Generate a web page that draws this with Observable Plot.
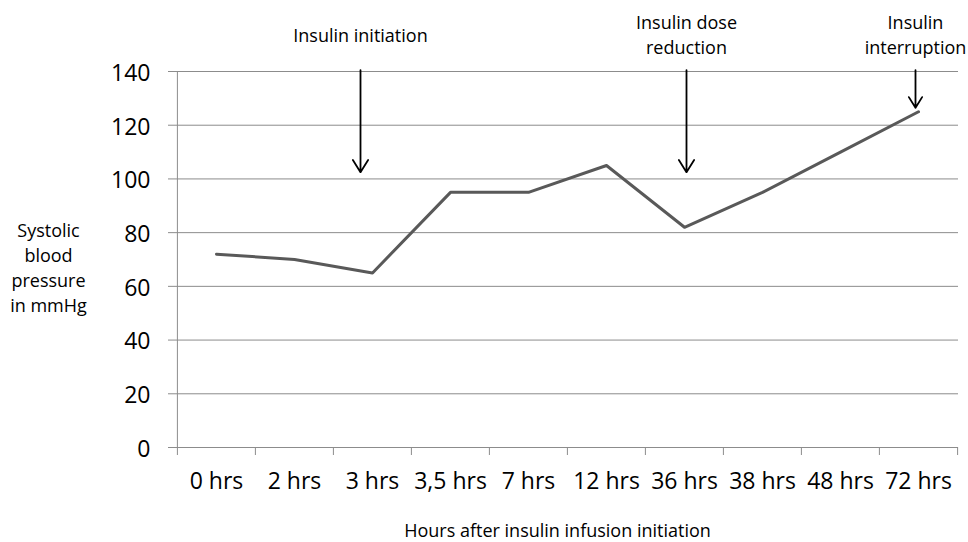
<!DOCTYPE html>
<html>
<head>
<meta charset="utf-8">
<script src="https://cdn.jsdelivr.net/npm/d3@7"></script>
<script src="https://cdn.jsdelivr.net/npm/@observablehq/plot@0.6"></script>
<style>
  html, body { margin: 0; padding: 0; background: #fff; }
  #chart svg { display: block; }
</style>
</head>
<body>
<div id="chart"></div>
<script>
const times = ["0 hrs", "2 hrs", "3 hrs", "3,5 hrs", "7 hrs", "12 hrs", "36 hrs", "38 hrs", "48 hrs", "72 hrs"];
const sbp = [72, 70, 65, 95, 95, 105, 82, 95, 110, 125];
const yTicks = [0, 20, 40, 60, 80, 100, 120, 140];
const eventLabels = ["Insulin initiation", "Insulin dose\nreduction", "Insulin\ninterruption"];
const eventAt = ["3 hrs", "36 hrs", "72 hrs"];
const eventTip = [102.5, 102.5, 126.5];
const yLabel = "Systolic\nblood\npressure\nin mmHg";
const xLabel = "Hours after insulin infusion initiation";

const W = 968, H = 542;
const mL = 176, mR = 10, mT = 71, mB = 95;
const step = (W - mL - mR) / times.length;
const pxPerUnit = (H - mT - mB) / 140;
const tickUnits = 8 / pxPerUnit;
const eventDx = [-12, 2, -3];

const data = times.map((t, i) => ({time: t, sbp: sbp[i]}));
const events = eventLabels.map((l, i) => ({label: l, at: eventAt[i], tip: eventTip[i]}));

const grid = "#8c8c8c";
const font = "Open Sans";

const marks = [
  Plot.ruleY(yTicks, {y: d => d, stroke: grid, strokeWidth: 1, insetLeft: -8}),
  Plot.ruleX([times[0]], {x: d => d, y1: 0, y2: 140, dx: -step / 2, stroke: grid}),
  Plot.ruleX(times, {x: d => d, y1: 0, y2: -tickUnits, dx: -step / 2, stroke: grid}),
  Plot.ruleX([times[times.length - 1]], {x: d => d, y1: 0, y2: -tickUnits, dx: step / 2, stroke: grid}),
  Plot.text(yTicks, {y: d => d, text: d => String(d), frameAnchor: "left", textAnchor: "end", dx: -26, dy: 2, fontSize: 23, fill: "#000"}),
  Plot.text(times, {x: d => d, text: d => d, frameAnchor: "bottom", dy: 41, fontSize: 23, fill: "#000"}),
  Plot.line(data, {x: "time", y: "sbp", stroke: "#595959", strokeWidth: 3}),
  ...events.map((e, i) => Plot.arrow([e], {x1: "at", x2: "at", y1: 140.5, y2: "tip", dx: eventDx[i], stroke: "#000", strokeWidth: 1.8, headLength: 12, headAngle: 64})),
  ...events.map((e, i) => Plot.text([e], {x: "at", y: 140, text: "label", dx: eventDx[i], dy: -38, fontSize: 18, lineHeight: 1.4, fill: "#000"})),
  Plot.text([yLabel], {text: d => d, frameAnchor: "left", textAnchor: "middle", dx: -128, dy: 7, fontSize: 18, lineHeight: 1.4, fill: "#000"}),
  Plot.text([xLabel], {text: d => d, frameAnchor: "bottom", dx: -10, dy: 89, fontSize: 18, fill: "#000"})
];

const chart = Plot.plot({
  width: W,
  height: H,
  marginLeft: mL,
  marginRight: mR,
  marginTop: mT,
  marginBottom: mB,
  style: {fontFamily: font, background: "#fff", overflow: "visible"},
  x: {type: "point", domain: times, padding: 0.5, axis: null},
  y: {domain: [0, 140], axis: null},
  marks
});
document.getElementById("chart").appendChild(chart);
</script>
</body>
</html>
